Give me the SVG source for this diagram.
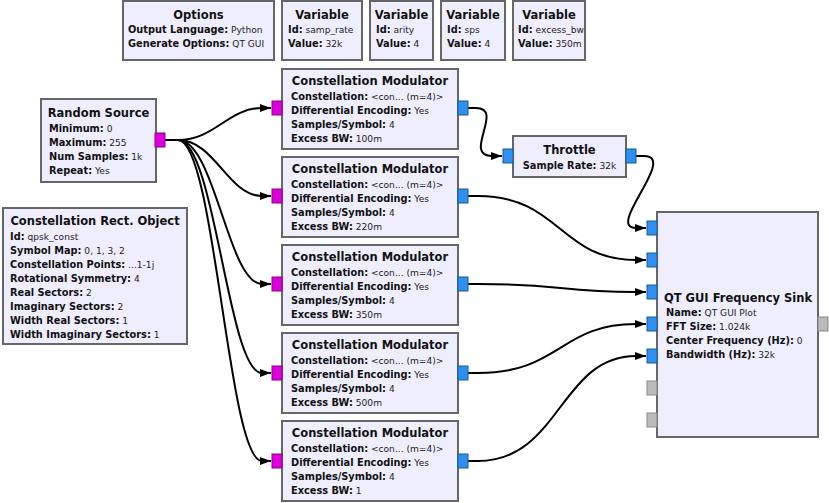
<svg xmlns="http://www.w3.org/2000/svg" width="829" height="503" viewBox="0 0 829 503">
<style>
.b{fill:#EEEEFF;stroke:#666;stroke-width:2}
text{font-family:"DejaVu Sans","Liberation Sans",sans-serif;fill:#111}
.t{font-size:11.5px;font-weight:bold;text-anchor:middle}
.l{font-size:9.1px;fill:#222}
.k{font-size:9.8px;font-weight:bold;fill:#111}
.pm{fill:#DD00DD;stroke:#8a008a;stroke-width:1}
.pb{fill:#2E90F0;stroke:#1a5a99;stroke-width:1}
.pg{fill:#BBBBBB;stroke:#888;stroke-width:1}
.c{fill:none;stroke:#000;stroke-width:2;marker-end:url(#ah)}
</style>
<defs>
<marker id="ah" markerWidth="12" markerHeight="10" refX="11" refY="5" orient="auto" markerUnits="userSpaceOnUse">
<path d="M0,1 L11,5 L0,9 z" fill="#000"/>
</marker>
</defs>
<rect width="829" height="503" fill="#fff"/>

<g id="connectors">
<path class="c" d="M165,140 H178 C215,140 228,108 262,108 H271"/>
<path class="c" d="M165,140 H178 C215,140 228,196 262,196 H271"/>
<path class="c" d="M165,140 H178 C215,140 228,284 262,284 H271"/>
<path class="c" d="M165,140 H178 C215,140 228,373 262,373 H271"/>
<path class="c" d="M165,140 H178 C215,140 228,461 262,461 H271"/>
<path class="c" d="M468,108 H476 C505,108 462,156 492,156 H502"/>
<path class="c" d="M636,156 H644 C678,156 605,228 636,228 H646"/>
<path class="c" d="M468,196 H478 C560,196 560,260 636,260 H646"/>
<path class="c" d="M468,284 H478 C560,284 560,292 636,292 H646"/>
<path class="c" d="M468,373 H478 C560,373 560,324 636,324 H646"/>
<path class="c" d="M468,461 H478 C560,461 560,356 636,356 H646"/>
</g>

<g id="options">
<rect class="b" x="123" y="1" width="151" height="59"/>
<text class="t" x="198.5" y="19">Options</text>
<text class="l" x="128" y="33"><tspan class="k">Output Language:</tspan> Python</text>
<text class="l" x="128" y="47"><tspan class="k">Generate Options:</tspan> QT GUI</text>
</g>
<g id="var_samp_rate">
<rect class="b" x="282" y="1" width="80" height="59"/>
<text class="t" x="322" y="19">Variable</text>
<text class="l" x="288" y="33"><tspan class="k">Id:</tspan> samp_rate</text>
<text class="l" x="288" y="47"><tspan class="k">Value:</tspan> 32k</text>
</g>
<g id="var_arity">
<rect class="b" x="370" y="1" width="63" height="59"/>
<text class="t" x="401.5" y="19">Variable</text>
<text class="l" x="376" y="33"><tspan class="k">Id:</tspan> arity</text>
<text class="l" x="376" y="47"><tspan class="k">Value:</tspan> 4</text>
</g>
<g id="var_sps">
<rect class="b" x="441" y="1" width="64" height="59"/>
<text class="t" x="473" y="19">Variable</text>
<text class="l" x="447" y="33"><tspan class="k">Id:</tspan> sps</text>
<text class="l" x="447" y="47"><tspan class="k">Value:</tspan> 4</text>
</g>
<g id="var_excess_bw">
<rect class="b" x="513" y="1" width="72" height="59"/>
<text class="t" x="549" y="19">Variable</text>
<text class="l" x="518" y="33"><tspan class="k">Id:</tspan> excess_bw</text>
<text class="l" x="518" y="47"><tspan class="k">Value:</tspan> 350m</text>
</g>

<g id="random_source">
<rect class="b" x="41" y="99" width="115" height="83"/>
<text class="t" x="98.5" y="117">Random Source</text>
<text class="l" x="49" y="132"><tspan class="k">Minimum:</tspan> 0</text>
<text class="l" x="49" y="146"><tspan class="k">Maximum:</tspan> 255</text>
<text class="l" x="49" y="160"><tspan class="k">Num Samples:</tspan> 1k</text>
<text class="l" x="49" y="174"><tspan class="k">Repeat:</tspan> Yes</text>
<rect class="pm" x="155" y="133" width="10" height="14"/>
</g>

<g id="constellation_rect">
<rect class="b" x="3" y="208" width="184" height="136"/>
<text class="t" x="95" y="225">Constellation Rect. Object</text>
<text class="l" x="10" y="240"><tspan class="k">Id:</tspan> qpsk_const</text>
<text class="l" x="10" y="254"><tspan class="k">Symbol Map:</tspan> 0, 1, 3, 2</text>
<text class="l" x="10" y="268"><tspan class="k">Constellation Points:</tspan> ...1-1j</text>
<text class="l" x="10" y="282"><tspan class="k">Rotational Symmetry:</tspan> 4</text>
<text class="l" x="10" y="296"><tspan class="k">Real Sectors:</tspan> 2</text>
<text class="l" x="10" y="310"><tspan class="k">Imaginary Sectors:</tspan> 2</text>
<text class="l" x="10" y="324"><tspan class="k">Width Real Sectors:</tspan> 1</text>
<text class="l" x="10" y="338"><tspan class="k">Width Imaginary Sectors:</tspan> 1</text>
</g>

<g id="mod1">
<rect class="b" x="282" y="69" width="176" height="80"/>
<text class="t" x="370" y="85">Constellation Modulator</text>
<text class="l" x="291" y="100"><tspan class="k">Constellation:</tspan> &lt;con... (m=4)&gt;</text>
<text class="l" x="291" y="114"><tspan class="k">Differential Encoding:</tspan> Yes</text>
<text class="l" x="291" y="128"><tspan class="k">Samples/Symbol:</tspan> 4</text>
<text class="l" x="291" y="142"><tspan class="k">Excess BW:</tspan> 100m</text>
<rect class="pm" x="272" y="101" width="10" height="14"/>
<rect class="pb" x="458" y="101" width="10" height="14"/>
</g>
<g id="mod2">
<rect class="b" x="282" y="157" width="176" height="80"/>
<text class="t" x="370" y="173">Constellation Modulator</text>
<text class="l" x="291" y="188"><tspan class="k">Constellation:</tspan> &lt;con... (m=4)&gt;</text>
<text class="l" x="291" y="202"><tspan class="k">Differential Encoding:</tspan> Yes</text>
<text class="l" x="291" y="216"><tspan class="k">Samples/Symbol:</tspan> 4</text>
<text class="l" x="291" y="230"><tspan class="k">Excess BW:</tspan> 220m</text>
<rect class="pm" x="272" y="189" width="10" height="14"/>
<rect class="pb" x="458" y="189" width="10" height="14"/>
</g>
<g id="mod3">
<rect class="b" x="282" y="245" width="176" height="80"/>
<text class="t" x="370" y="261">Constellation Modulator</text>
<text class="l" x="291" y="276"><tspan class="k">Constellation:</tspan> &lt;con... (m=4)&gt;</text>
<text class="l" x="291" y="290"><tspan class="k">Differential Encoding:</tspan> Yes</text>
<text class="l" x="291" y="304"><tspan class="k">Samples/Symbol:</tspan> 4</text>
<text class="l" x="291" y="318"><tspan class="k">Excess BW:</tspan> 350m</text>
<rect class="pm" x="272" y="277" width="10" height="14"/>
<rect class="pb" x="458" y="277" width="10" height="14"/>
</g>
<g id="mod4">
<rect class="b" x="282" y="333" width="176" height="80"/>
<text class="t" x="370" y="349">Constellation Modulator</text>
<text class="l" x="291" y="364"><tspan class="k">Constellation:</tspan> &lt;con... (m=4)&gt;</text>
<text class="l" x="291" y="378"><tspan class="k">Differential Encoding:</tspan> Yes</text>
<text class="l" x="291" y="392"><tspan class="k">Samples/Symbol:</tspan> 4</text>
<text class="l" x="291" y="406"><tspan class="k">Excess BW:</tspan> 500m</text>
<rect class="pm" x="272" y="366" width="10" height="14"/>
<rect class="pb" x="458" y="366" width="10" height="14"/>
</g>
<g id="mod5">
<rect class="b" x="282" y="421" width="176" height="80"/>
<text class="t" x="370" y="437">Constellation Modulator</text>
<text class="l" x="291" y="452"><tspan class="k">Constellation:</tspan> &lt;con... (m=4)&gt;</text>
<text class="l" x="291" y="466"><tspan class="k">Differential Encoding:</tspan> Yes</text>
<text class="l" x="291" y="480"><tspan class="k">Samples/Symbol:</tspan> 4</text>
<text class="l" x="291" y="494"><tspan class="k">Excess BW:</tspan> 1</text>
<rect class="pm" x="272" y="454" width="10" height="14"/>
<rect class="pb" x="458" y="454" width="10" height="14"/>
</g>

<g id="throttle">
<rect class="b" x="513" y="136" width="113" height="41"/>
<text class="t" x="569.5" y="154">Throttle</text>
<text class="l" x="569.5" y="169" text-anchor="middle"><tspan class="k">Sample Rate:</tspan> 32k</text>
<rect class="pb" x="503" y="149" width="10" height="14"/>
<rect class="pb" x="626" y="149" width="10" height="14"/>
</g>

<g id="freq_sink">
<rect class="b" x="657" y="212" width="161" height="225"/>
<text class="t" x="738" y="302">QT GUI Frequency Sink</text>
<text class="l" x="666" y="316"><tspan class="k">Name:</tspan> QT GUI Plot</text>
<text class="l" x="666" y="330"><tspan class="k">FFT Size:</tspan> 1.024k</text>
<text class="l" x="666" y="344"><tspan class="k">Center Frequency (Hz):</tspan> 0</text>
<text class="l" x="666" y="358"><tspan class="k">Bandwidth (Hz):</tspan> 32k</text>
<rect class="pb" x="647" y="221" width="10" height="14"/>
<rect class="pb" x="647" y="253" width="10" height="14"/>
<rect class="pb" x="647" y="285" width="10" height="14"/>
<rect class="pb" x="647" y="317" width="10" height="14"/>
<rect class="pb" x="647" y="349" width="10" height="14"/>
<rect class="pg" x="647" y="381" width="10" height="14"/>
<rect class="pg" x="647" y="413" width="10" height="14"/>
<rect class="pg" x="818" y="317" width="10" height="14"/>
</g>
</svg>
